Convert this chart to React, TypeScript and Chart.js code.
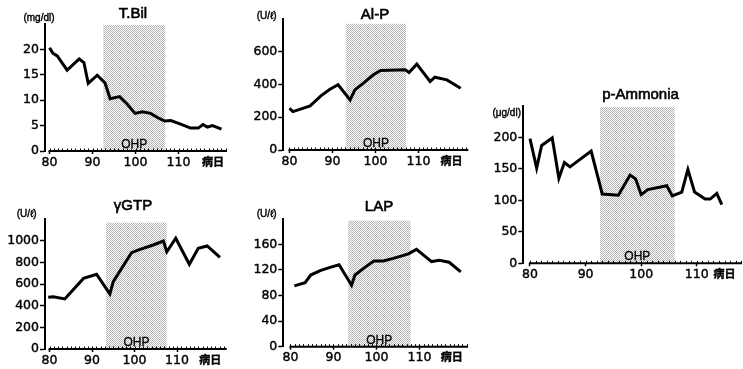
import React, { useEffect, useRef } from 'react';
import { Chart, registerables } from 'chart.js';

Chart.register(...registerables);

const W = 743;
const H = 369;
const YW = 40; // y-axis box width
const XH = 22; // x-axis box height

// ---------- data ----------
const X_TICKS = [80, 90, 100, 110];
const DAY_LABEL = '病日';

const TBIL_DAYS = [80, 80.8, 81.8, 84.1, 86.9, 88, 89, 91.1, 92.9, 94.1, 96.3, 98.1, 99.9, 101.6, 103.5, 105.5, 106.8, 108.2, 110.5, 112.8, 114.6, 115.7, 116.7, 117.9, 120];
const TBIL_VALUES = [20.3, 19.2, 18.7, 15.9, 18.1, 17.4, 13.3, 14.9, 13.4, 10.3, 10.7, 9.2, 7.4, 7.7, 7.4, 6.4, 5.9, 6.0, 5.3, 4.5, 4.5, 5.2, 4.7, 5.0, 4.3];
const TBIL_Y_TICKS = [0, 5, 10, 15, 20];

const ALP_DAYS = [80, 80.8, 84.8, 87.3, 89.4, 91.3, 94.1, 95.2, 97.2, 99.5, 101.2, 106.9, 107.8, 109.6, 112.7, 113.8, 116.6, 119.8];
const ALP_VALUES = [255, 234, 269, 330, 371, 398, 306, 367, 408, 459, 485, 489, 473, 524, 418, 444, 428, 377];
const ALP_Y_TICKS = [0, 200, 400, 600];

const GTP_DAYS = [79.7, 80.9, 83.6, 88, 91.1, 94.2, 95, 99.3, 101.3, 104.4, 106.8, 107.6, 109.7, 112.9, 115, 117.1, 120.1];
const GTP_VALUES = [477, 483, 462, 652, 689, 508, 622, 889, 920, 960, 997, 898, 1022, 782, 929, 951, 846];
const GTP_Y_TICKS = [0, 200, 400, 600, 800, 1000];

const LAP_DAYS = [80.9, 83.4, 84.7, 86.9, 89.2, 91.3, 94.2, 95, 97.3, 99.4, 101.6, 103.9, 105.9, 107.4, 109.3, 112.8, 114.6, 116.9, 119.6];
const LAP_VALUES = [95, 100, 112, 119, 124, 128, 96, 112, 124, 134, 134, 138, 142, 145, 152, 133, 135, 132, 117];
const LAP_Y_TICKS = [0, 40, 80, 120, 160];

const NH3_DAYS = [80, 81.2, 82.1, 84, 85.2, 86.2, 87.2, 91, 93, 95.9, 98, 99, 100, 101.2, 104.6, 105.6, 107.3, 108.4, 109.6, 111.5, 112.4, 113.6, 114.5];
const NH3_VALUES = [198, 151, 187, 199, 135, 160, 153, 178, 110, 108, 140, 134, 109, 117, 123, 107, 113, 149, 113, 102, 102, 111, 93];
const NH3_Y_TICKS = [0, 50, 100, 150, 200];

// OHP period per panel: [startDay, endDay, topValue]
const TBIL_OHP = [92.5, 106.9, 24.8];
const ALP_OHP = [93.1, 107.1, 770];
const GTP_OHP = [93.3, 107.6, 1166];
const LAP_OHP = [93.4, 107.9, 197];
const NH3_OHP = [92.6, 106, 248];

// ---------- layout ----------
type Panel = {
  title: string;
  unit: string;
  days: number[];
  values: number[];
  yTicks: number[];
  ohp: number[];
  yMax: number;
  xMin: number;
  xMax: number;
  dayLabelAt: number;
  area: { l: number; r: number; t: number; b: number };
  titlePos: [number, number];
  unitPos: [number, number];
};

const PANELS: Panel[] = [
  {
    title: 'T.Bil', unit: '(mg/dl)', days: TBIL_DAYS, values: TBIL_VALUES, yTicks: TBIL_Y_TICKS, ohp: TBIL_OHP,
    yMax: 25, xMin: 78.95, xMax: 121.28, dayLabelAt: 118,
    area: { l: 45, r: 227, t: 23.9, b: 151 }, titlePos: [133, 12.5], unitPos: [39, 17.5],
  },
  {
    title: 'Al-P', unit: '(U/ℓ)', days: ALP_DAYS, values: ALP_VALUES, yTicks: ALP_Y_TICKS, ohp: ALP_OHP,
    yMax: 800, xMin: 78.56, xMax: 121.58, dayLabelAt: 117.7,
    area: { l: 283.3, r: 468.3, t: 18.9, b: 150 }, titlePos: [375, 13.3], unitPos: [266.7, 15],
  },
  {
    title: 'γGTP', unit: '(U/ℓ)', days: GTP_DAYS, values: GTP_VALUES, yTicks: GTP_Y_TICKS, ohp: GTP_OHP,
    yMax: 1200, xMin: 78.94, xMax: 121.69, dayLabelAt: 117.8,
    area: { l: 45, r: 226.7, t: 219, b: 349 }, titlePos: [133, 205], unitPos: [26.7, 213.3],
  },
  {
    title: 'LAP', unit: '(U/ℓ)', days: LAP_DAYS, values: LAP_VALUES, yTicks: LAP_Y_TICKS, ohp: LAP_OHP,
    yMax: 200, xMin: 78.33, xMax: 121.28, dayLabelAt: 117.5,
    area: { l: 283.3, r: 468, t: 218.7, b: 346.7 }, titlePos: [379, 205.7], unitPos: [266.7, 213.3],
  },
  {
    title: 'p-Ammonia', unit: '(μg/dl)', days: NH3_DAYS, values: NH3_VALUES, yTicks: NH3_Y_TICKS, ohp: NH3_OHP,
    yMax: 250, xMin: 78.8, xMax: 118.13, dayLabelAt: 115,
    area: { l: 523.3, r: 742, t: 105.8, b: 263.3 }, titlePos: [640.5, 93.3], unitPos: [506.7, 112.7],
  },
];

const NUM_FONT = 'DejaVu Sans';
const TEXT_FONT = 'Liberation Sans';
const CJK_FONT = 'Noto Sans CJK JP';

function makePattern(): CanvasPattern | string {
  const c = document.createElement('canvas');
  c.width = 2;
  c.height = 2;
  const g = c.getContext('2d');
  if (!g) return '#d8d8d8';
  g.fillStyle = '#ffffff';
  g.fillRect(0, 0, 2, 2);
  g.fillStyle = '#b4b4b4';
  g.fillRect(0, 0, 1, 1);
  g.fillRect(1, 1, 1, 1);
  const p = g.createPattern(c, 'repeat');
  return p || '#d8d8d8';
}

function heavyText(ctx: CanvasRenderingContext2D, text: string, x: number, y: number, stroke: number) {
  ctx.fillText(text, x, y);
  ctx.lineWidth = stroke;
  ctx.strokeStyle = '#000';
  ctx.strokeText(text, x, y);
}

function PanelChart({ panel }: { panel: Panel }) {
  const ref = useRef<HTMLCanvasElement>(null);

  useEffect(() => {
    const canvas = ref.current;
    if (!canvas) return;
    const pattern = makePattern();
    const p = panel;

    const decor = {
      id: 'panelDecor',
      beforeDatasetsDraw(chart: any) {
        const { ctx } = chart;
        const x = chart.scales.x;
        const y = chart.scales.y;
        const x0 = x.getPixelForValue(p.ohp[0]);
        const x1 = x.getPixelForValue(p.ohp[1]);
        const yt = y.getPixelForValue(p.ohp[2]);
        const yb = y.getPixelForValue(0);
        ctx.save();
        ctx.fillStyle = pattern;
        ctx.fillRect(x0, yt, x1 - x0, yb - yt);
        ctx.fillStyle = '#000';
        ctx.font = `12px "${TEXT_FONT}"`;
        ctx.textAlign = 'center';
        ctx.textBaseline = 'alphabetic';
        heavyText(ctx, 'OHP', (x0 + x1) / 2, yb - 3, 0.3);
        ctx.restore();
      },
      afterDraw(chart: any) {
        const { ctx, chartArea } = chart;
        const x = chart.scales.x;
        const yb = chartArea.bottom;
        ctx.save();
        // x-axis baseline starting at day 80
        ctx.strokeStyle = '#000';
        ctx.lineWidth = 2;
        ctx.beginPath();
        ctx.moveTo(x.getPixelForValue(X_TICKS[0]) - 1, yb);
        ctx.lineTo(chartArea.right, yb);
        ctx.stroke();
        // minor day ticks
        ctx.lineWidth = 1;
        ctx.beginPath();
        for (let d = X_TICKS[0]; d <= Math.floor(p.xMax); d++) {
          const px = Math.round(x.getPixelForValue(d)) + 0.5;
          ctx.moveTo(px, yb);
          ctx.lineTo(px, yb - 2.5);
        }
        ctx.stroke();
        // title
        ctx.fillStyle = '#000';
        ctx.textAlign = 'center';
        ctx.textBaseline = 'alphabetic';
        ctx.font = `15px "${TEXT_FONT}"`;
        heavyText(ctx, p.title, p.titlePos[0], p.titlePos[1] + 5.4, 0.6);
        // unit
        ctx.font = `10px "${TEXT_FONT}"`;
        heavyText(ctx, p.unit, p.unitPos[0], p.unitPos[1] + 3.5, 0.4);
        ctx.restore();
      },
    };

    const chart = new Chart(canvas, {
      type: 'line',
      data: {
        datasets: [
          {
            data: p.days.map((d, i) => ({ x: d, y: p.values[i] })),
            borderColor: '#000',
            borderWidth: 3,
            pointRadius: 0,
            tension: 0,
            fill: false,
          },
        ],
      },
      options: {
        animation: false,
        responsive: false,
        devicePixelRatio: 1,
        events: [],
        layout: {
          padding: {
            left: p.area.l - YW,
            top: p.area.t,
            right: W - p.area.r,
            bottom: H - p.area.b - XH,
          },
        },
        plugins: {
          legend: { display: false },
          title: { display: false },
          tooltip: { enabled: false },
        },
        scales: {
          x: {
            type: 'linear',
            min: p.xMin,
            max: p.xMax,
            afterBuildTicks: (s: any) => {
              s.ticks = [...X_TICKS, p.dayLabelAt].map((v) => ({ value: v }));
            },
            afterFit: (s: any) => {
              s.height = XH;
              s.paddingLeft = 0;
              s.paddingRight = 0;
            },
            border: { display: false },
            grid: {
              display: true,
              drawOnChartArea: false,
              tickLength: 3,
              tickWidth: 1.5,
              tickColor: (c: any) => (c.tick && c.tick.value === p.dayLabelAt ? 'rgba(0,0,0,0)' : '#000'),
            },
            ticks: {
              color: '#000',
              textStrokeColor: '#000',
              textStrokeWidth: 0.4,
              padding: 1,
              maxRotation: 0,
              autoSkip: false,
              callback: (v: any) => (v === p.dayLabelAt ? DAY_LABEL : String(v)),
              font: (c: any) =>
                c.tick && c.tick.value === p.dayLabelAt
                  ? { family: CJK_FONT, size: 11, weight: 'bold' }
                  : { family: NUM_FONT, size: 12.5 },
            },
          },
          y: {
            type: 'linear',
            min: 0,
            max: p.yMax,
            afterBuildTicks: (s: any) => {
              s.ticks = p.yTicks.map((v) => ({ value: v }));
            },
            afterFit: (s: any) => {
              s.width = YW;
              s.paddingTop = 0;
              s.paddingBottom = 0;
            },
            border: { display: true, color: '#000', width: 2 },
            grid: {
              display: true,
              drawOnChartArea: false,
              tickLength: 5,
              tickWidth: 1.5,
              tickColor: '#000',
            },
            ticks: {
              color: '#000',
              textStrokeColor: '#000',
              textStrokeWidth: 0.4,
              padding: 1,
              callback: (v: any) => String(v),
              font: { family: NUM_FONT, size: 12.5 },
            },
          },
        },
      },
      plugins: [decor],
    } as any);

    return () => chart.destroy();
  }, [panel]);

  return (
    <canvas
      ref={ref}
      width={W}
      height={H}
      style={{ position: 'absolute', left: 0, top: 0, width: W, height: H }}
    />
  );
}

export default function App() {
  return (
    <div style={{ position: 'absolute', left: 0, top: 0, width: W, height: H, background: '#fff', overflow: 'hidden' }}>
      {PANELS.map((p) => (
        <PanelChart key={p.title} panel={p} />
      ))}
    </div>
  );
}
